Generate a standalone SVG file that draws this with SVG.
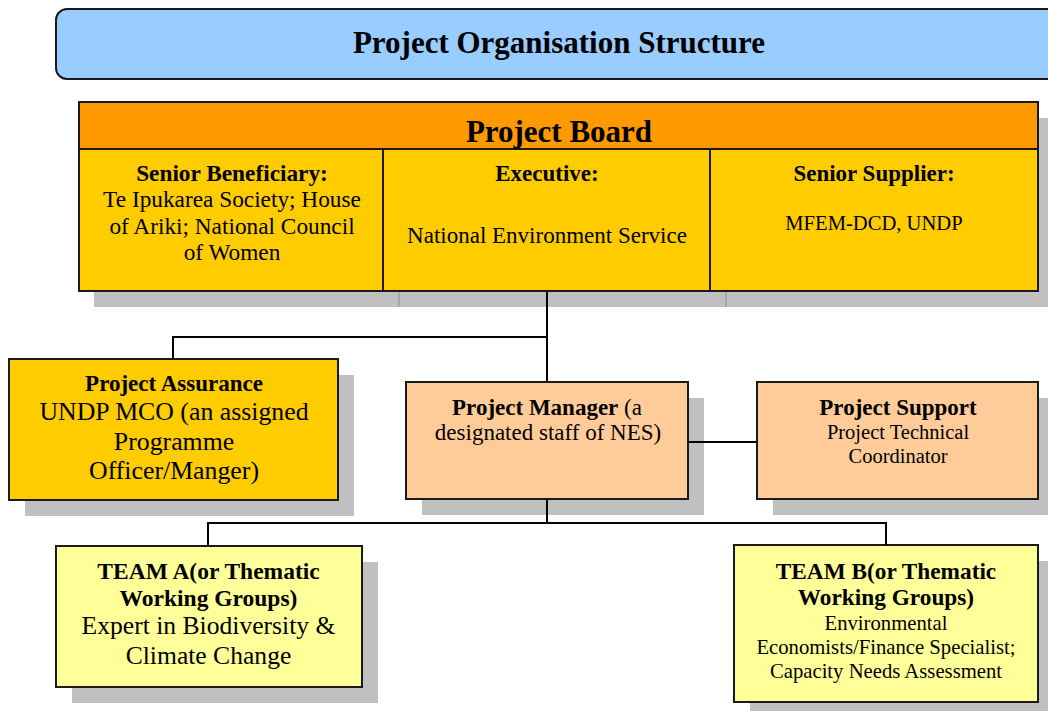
<svg xmlns="http://www.w3.org/2000/svg" width="1048" height="711" viewBox="0 0 1048 711">
  <style>
    text { font-family: "Liberation Serif", "Times New Roman", serif; fill: #000; text-anchor: middle; }
    .b { font-weight: bold; }
    .box { stroke: #1a1a1a; stroke-width: 2; }
    .shadow { fill: #c0c0c0; }
    .orange { fill: #ff9900; }
    .gold { fill: #ffcc00; }
    .peach { fill: #ffcc99; }
    .lemon { fill: #ffff99; }
    .link { fill: none; stroke: #000; stroke-width: 2; }
  </style>

  <!-- Title banner -->
  <g id="title">
    <rect x="56" y="9" width="1010" height="70" rx="11" ry="11" fill="#99ccff" class="box"/>
    <text x="559" y="53" class="b" font-size="31">Project Organisation Structure</text>
  </g>

  <!-- Project Board with its three member cells -->
  <g id="project-board">
    <rect x="94" y="118" width="960" height="189" class="shadow"/>
    <line x1="399" y1="291" x2="399" y2="307" stroke="#a8a8a8" stroke-width="2"/>
    <line x1="726" y1="291" x2="726" y2="307" stroke="#a8a8a8" stroke-width="2"/>
    <rect x="79" y="102" width="959" height="47" class="orange box"/>
    <rect x="79" y="149" width="959" height="142" class="gold box"/>
    <line x1="383" y1="149" x2="383" y2="291" class="box"/>
    <line x1="710" y1="149" x2="710" y2="291" class="box"/>
    <text x="559" y="142" class="b" font-size="31">Project Board</text>
    <g id="senior-beneficiary">
      <text x="232" y="181" class="b" font-size="23.3">Senior Beneficiary:</text>
      <text x="232" y="207" font-size="23.3">Te Ipukarea Society; House</text>
      <text x="232" y="234" font-size="23.3">of Ariki; National Council</text>
      <text x="232" y="260" font-size="23.3">of Women</text>
    </g>
    <g id="executive">
      <text x="547" y="181" class="b" font-size="23">Executive:</text>
      <text x="547" y="243" font-size="23">National Environment Service</text>
    </g>
    <g id="senior-supplier">
      <text x="874" y="181" class="b" font-size="23">Senior Supplier:</text>
      <text x="874" y="230" font-size="20.6">MFEM-DCD, UNDP</text>
    </g>
  </g>

  <!-- Project Assurance -->
  <g id="project-assurance">
    <rect x="25" y="375" width="329" height="141" class="shadow"/>
    <rect x="9" y="359" width="329" height="141" class="gold box"/>
    <text x="174" y="391" class="b" font-size="23">Project Assurance</text>
    <text x="174" y="420" font-size="25.8">UNDP MCO (an assigned</text>
    <text x="174" y="449.5" font-size="25.8">Programme</text>
    <text x="174" y="479" font-size="25.8">Officer/Manger)</text>
  </g>

  <!-- Project Manager -->
  <g id="project-manager">
    <rect x="422" y="398" width="282" height="117" class="shadow"/>
    <rect x="406" y="382" width="282" height="117" class="peach box"/>
    <text x="547" y="414.5" font-size="23"><tspan class="b">Project Manager</tspan> (a</text>
    <text x="548" y="440" font-size="23">designated staff of NES)</text>
  </g>

  <!-- Project Support -->
  <g id="project-support">
    <rect x="773" y="398" width="283" height="117" class="shadow"/>
    <rect x="757" y="382" width="281" height="117" class="peach box"/>
    <text x="898" y="415" class="b" font-size="23">Project Support</text>
    <text x="898" y="438.5" font-size="20.5">Project Technical</text>
    <text x="898" y="462.5" font-size="20.5">Coordinator</text>
  </g>

  <!-- Team A -->
  <g id="team-a">
    <rect x="72" y="562" width="306" height="141" class="shadow"/>
    <rect x="56" y="546" width="306" height="141" class="lemon box"/>
    <text x="208.5" y="578.5" class="b" font-size="23.5">TEAM A(or Thematic</text>
    <text x="208.5" y="606" class="b" font-size="23.5">Working Groups)</text>
    <text x="208.5" y="633.5" font-size="25.6">Expert in Biodiversity &amp;</text>
    <text x="208.5" y="663.5" font-size="25.6">Climate Change</text>
  </g>

  <!-- Team B -->
  <g id="team-b">
    <rect x="750" y="561" width="306" height="157" class="shadow"/>
    <rect x="734" y="545" width="304" height="157" class="lemon box"/>
    <text x="886" y="578.5" class="b" font-size="23.3">TEAM B(or Thematic</text>
    <text x="886" y="605" class="b" font-size="23.3">Working Groups)</text>
    <text x="886" y="630" font-size="20.7">Environmental</text>
    <text x="886" y="654" font-size="20.7">Economists/Finance Specialist;</text>
    <text x="886" y="677.5" font-size="20.7">Capacity Needs Assessment</text>
  </g>

  <!-- Reporting lines -->
  <g id="connectors">
    <path class="link" d="M547 291 V382"/>
    <path class="link" d="M547 337 H173 V359"/>
    <path class="link" d="M688 442 H757"/>
    <path class="link" d="M547 499 V523"/>
    <path class="link" d="M208 546 V523 H886 V545"/>
  </g>
</svg>
